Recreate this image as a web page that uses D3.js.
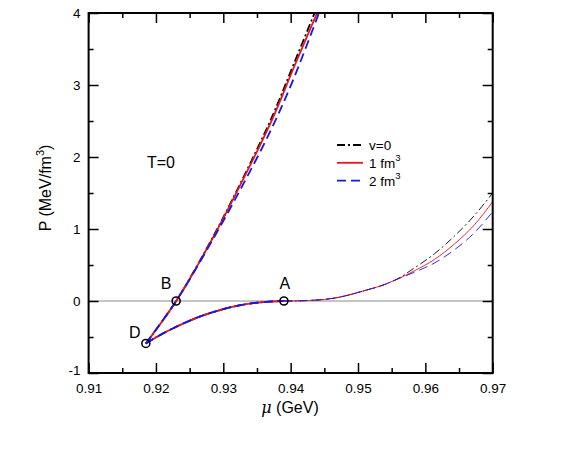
<!DOCTYPE html>
<html>
<head>
<meta charset="utf-8">
<script src="https://cdn.jsdelivr.net/npm/d3@7"></script>
<style>
  body { margin: 0; background: #fff; }
  svg { font-family: "Liberation Sans", Arial, sans-serif; }
</style>
</head>
<body>
<svg id="chart" width="581" height="452"></svg>
<script>
// upper (thick) branch D -> top
const muUpper = [0.9185, 0.923, 0.9283, 0.933, 0.9372, 0.9405, 0.9442];
const pUpperV0 = [-0.59, 0, 0.86, 1.72, 2.55, 3.30, 4.15];
const pUpper1 = [-0.59, 0, 0.85, 1.70, 2.51, 3.25, 4.06];
const pUpper2 = [-0.59, 0, 0.83, 1.63, 2.40, 3.10, 4.0];

// lower branch D -> A
const muLower = [0.9185, 0.9205, 0.9221, 0.9246, 0.927, 0.9295, 0.932, 0.9344, 0.9369, 0.939];
const pLower = [-0.59, -0.48, -0.40, -0.29, -0.20, -0.127, -0.069, -0.03, -0.008, 0];

// thin branch beyond A
const muRight = [0.939, 0.9414, 0.9463, 0.9513, 0.9537, 0.9555, 0.9584, 0.9614, 0.9643, 0.9673, 0.97];
const pRightV0 = [0, 0.003, 0.037, 0.153, 0.22, 0.29, 0.46, 0.66, 0.90, 1.19, 1.50];
const pRight1 = [0, 0.003, 0.037, 0.153, 0.22, 0.29, 0.42, 0.58, 0.79, 1.06, 1.38];
const pRight2 = [0, 0.003, 0.037, 0.153, 0.22, 0.29, 0.40, 0.53, 0.71, 0.95, 1.24];

const markers = [
  { mu: 0.939, p: 0, label: 'A' },
  { mu: 0.923, p: 0, label: 'B' },
  { mu: 0.9185, p: -0.59, label: 'D' }
];

const xTicks = [0.91, 0.92, 0.93, 0.94, 0.95, 0.96, 0.97];
const xMinor = [0.915, 0.925, 0.935, 0.945, 0.955, 0.965];
const yTicks = [-1, 0, 1, 2, 3, 4];
const yMinor = [-0.5, 0.5, 1.5, 2.5, 3.5];

const series = [
  { name: 'v=0', sup: '', color: '#000', dash: '8,3,2,3', upper: pUpperV0, right: pRightV0 },
  { name: '1 fm', sup: '3', color: '#e8161b', dash: null, upper: pUpper1, right: pRight1 },
  { name: '2 fm', sup: '3', color: '#1515ee', dash: '9,5', upper: pUpper2, right: pRight2 }
];

const svg = d3.select('#chart');
const margin = { left: 88.6, right: 88.3, top: 13, bottom: 79 };
const W = 581, H = 452;

const x = d3.scaleLinear().domain([0.91, 0.97]).range([margin.left, W - margin.right]);
const y = d3.scaleLinear().domain([-1, 4]).range([H - margin.bottom, margin.top]);

svg.append('clipPath').attr('id', 'clip')
  .append('rect')
  .attr('x', x(0.91)).attr('y', y(4))
  .attr('width', x(0.97) - x(0.91)).attr('height', y(-1) - y(4));

// zero line
svg.append('line')
  .attr('x1', x(0.91)).attr('x2', x(0.97))
  .attr('y1', y(0)).attr('y2', y(0))
  .attr('stroke', '#8a8a8a').attr('stroke-width', 1);

const line = (mus, ps) => d3.line()
  .x((_, i) => x(mus[i]))
  .y((_, i) => y(ps[i]))
  .curve(d3.curveMonotoneX)(ps);

const plot = svg.append('g').attr('clip-path', 'url(#clip)');

series.forEach(s => {
  const up = d3.line()
    .x(d => x(d[0])).y(d => y(d[1]))
    .curve(d3.curveCatmullRom)(muUpper.map((m, i) => [m, s.upper[i]]));
  plot.append('path').attr('d', up)
    .attr('fill', 'none').attr('stroke', s.color).attr('stroke-width', 1.8)
    .attr('stroke-dasharray', s.dash);
  plot.append('path').attr('d', line(muLower, pLower))
    .attr('fill', 'none').attr('stroke', s.color).attr('stroke-width', 1.8)
    .attr('stroke-dasharray', s.dash);
  plot.append('path').attr('d', line(muRight, s.right))
    .attr('fill', 'none').attr('stroke', s.color).attr('stroke-width', 0.9)
    .attr('stroke-dasharray', s.dash);
});

// markers
svg.selectAll('circle.mk')
  .data(markers)
  .enter()
  .append('circle')
  .attr('class', 'mk')
  .attr('cx', d => x(d.mu))
  .attr('cy', d => y(d.p))
  .attr('r', 4)
  .attr('fill', 'none')
  .attr('stroke', '#000')
  .attr('stroke-width', 1.6);

const labelOffset = { A: [1, -12], B: [-10, -12], D: [-11, -5] };
svg.selectAll('text.mk')
  .data(markers)
  .enter()
  .append('text')
  .attr('x', d => x(d.mu) + labelOffset[d.label][0])
  .attr('y', d => y(d.p) + labelOffset[d.label][1])
  .attr('text-anchor', 'middle')
  .attr('font-size', '16px')
  .text(d => d.label);

// axes
const tickStyle = g => {
  g.select('.domain').remove();
  g.selectAll('.tick line').attr('stroke', '#000').attr('stroke-width', 1.5);
  g.selectAll('.tick text').attr('font-size', '13.5px').attr('fill', '#000')
    .attr('font-family', '"Liberation Sans", Arial, sans-serif');
};

svg.append('g').attr('transform', `translate(0,${y(-1)})`)
  .call(d3.axisBottom(x).tickValues(xTicks).tickSize(-10).tickPadding(10).tickFormat(d3.format('.2f')))
  .call(tickStyle);
svg.append('g').attr('transform', `translate(0,${y(-1)})`)
  .call(d3.axisBottom(x).tickValues(xMinor).tickSize(-5).tickFormat(''))
  .call(tickStyle);
svg.append('g').attr('transform', `translate(0,${y(4)})`)
  .call(d3.axisTop(x).tickValues(xTicks).tickSize(-10).tickFormat(''))
  .call(tickStyle);
svg.append('g').attr('transform', `translate(0,${y(4)})`)
  .call(d3.axisTop(x).tickValues(xMinor).tickSize(-5).tickFormat(''))
  .call(tickStyle);

svg.append('g').attr('transform', `translate(${x(0.91)},0)`)
  .call(d3.axisLeft(y).tickValues(yTicks).tickSize(-10).tickPadding(8).tickFormat(d => String(d)))
  .call(tickStyle)
  .call(g => g.selectAll('.tick text').filter(d => d === -1).attr('dy', '0.1em'));
svg.append('g').attr('transform', `translate(${x(0.91)},0)`)
  .call(d3.axisLeft(y).tickValues(yMinor).tickSize(-5).tickFormat(''))
  .call(tickStyle);
svg.append('g').attr('transform', `translate(${x(0.97)},0)`)
  .call(d3.axisRight(y).tickValues(yTicks).tickSize(-10).tickFormat(''))
  .call(tickStyle);
svg.append('g').attr('transform', `translate(${x(0.97)},0)`)
  .call(d3.axisRight(y).tickValues(yMinor).tickSize(-5).tickFormat(''))
  .call(tickStyle);

// frame
svg.append('rect')
  .attr('x', x(0.91)).attr('y', y(4))
  .attr('width', x(0.97) - x(0.91)).attr('height', y(-1) - y(4))
  .attr('fill', 'none').attr('stroke', '#000').attr('stroke-width', 2);

// axis titles
const xt = svg.append('text')
  .attr('x', 290).attr('y', 413)
  .attr('text-anchor', 'middle')
  .attr('font-size', '16px');
xt.append('tspan').attr('font-style', 'italic').attr('font-family', '"DejaVu Serif", serif').text('μ');
xt.append('tspan').text(' (GeV)');

const yt = svg.append('text')
  .attr('transform', 'translate(51,188) rotate(-90)')
  .attr('text-anchor', 'middle')
  .attr('font-size', '16px');
yt.append('tspan').text('P (MeV/fm');
yt.append('tspan').attr('font-size', '11px').attr('dy', '-7').text('3');
yt.append('tspan').attr('dy', '7').text(')');

// T=0
svg.append('text')
  .attr('x', 161).attr('y', 168)
  .attr('text-anchor', 'middle')
  .attr('font-size', '16px')
  .text('T=0');

// legend
const legend = svg.append('g');
series.forEach((s, i) => {
  const ly = 145 + i * 17.8;
  legend.append('line')
    .attr('x1', 337).attr('x2', 363).attr('y1', ly).attr('y2', ly)
    .attr('stroke', s.color).attr('stroke-width', 1.8)
    .attr('stroke-dasharray', s.dash);
  const t = legend.append('text')
    .attr('x', 369).attr('y', ly + 5)
    .attr('font-size', '13.5px');
  t.append('tspan').text(s.name);
  if (s.sup) t.append('tspan').attr('font-size', '9.5px').attr('dy', '-7').text(s.sup);
});
</script>
</body>
</html>
